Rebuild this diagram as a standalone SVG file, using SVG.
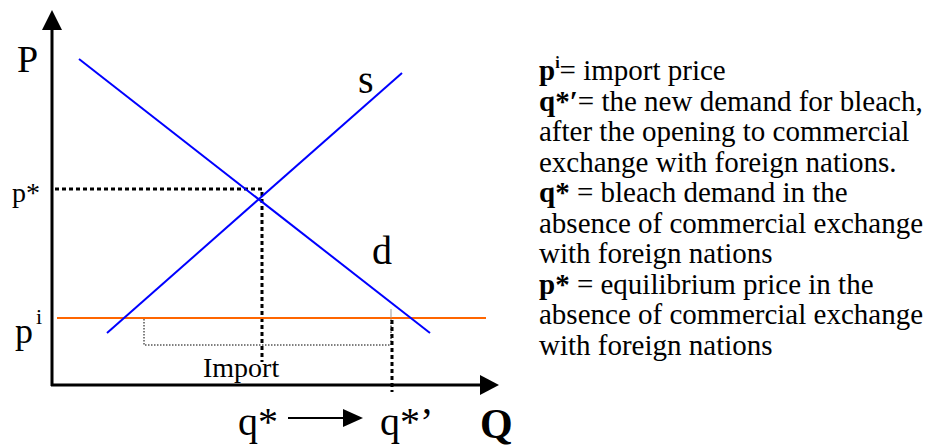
<svg xmlns="http://www.w3.org/2000/svg" width="933" height="446" viewBox="0 0 933 446">
<style>
.ax{stroke:#000;stroke-width:3;fill:none}
.curve{stroke:#0000ff;stroke-width:2;fill:none}
.dot{stroke:#000;stroke-width:3;stroke-dasharray:4 3;fill:none}
.thin{stroke:#000;stroke-width:1;stroke-dasharray:1.5 1.5;fill:none}
.lbl{font-family:"Liberation Serif","Times New Roman",serif;fill:#000}
.leg{font-family:"Liberation Serif","Times New Roman",serif;font-size:29px;fill:#000}
.b{font-weight:bold}
</style>
<rect width="933" height="446" fill="#fff"/>
<g id="connectors">
<line class="ax" x1="52" y1="386" x2="52" y2="28"/>
<polygon points="52,10 42,30 62,30" fill="#000"/>
<line class="ax" x1="51" y1="385" x2="481" y2="385"/>
<polygon points="499,385 480,375 480,395" fill="#000"/>
<line class="dot" x1="55" y1="189" x2="262" y2="189"/>
<line class="dot" x1="262" y1="192" x2="262" y2="362"/>
<line stroke="#ff6600" stroke-width="2" x1="57" y1="318" x2="486" y2="318"/>
<polyline class="thin" points="144,319 144,345 391,345 391,319"/>
<line stroke="#999" stroke-width="1" x1="391" y1="309" x2="391" y2="318"/>
<line class="dot" x1="392" y1="320" x2="392" y2="392"/>
<line class="curve" x1="79" y1="59" x2="430" y2="333"/>
<line class="curve" x1="107" y1="333" x2="402" y2="73"/>
<line stroke="#000" stroke-width="2" x1="288" y1="418" x2="345" y2="418"/>
<polygon points="363,418 343,409 343,427" fill="#000"/>
</g>
<g id="labels">
<text class="lbl" x="17" y="72" font-size="38">P</text>
<text class="lbl" x="358" y="93" font-size="40">s</text>
<text class="lbl" x="372" y="264" font-size="40">d</text>
<text class="lbl" x="12" y="202" font-size="28">p*</text>
<text class="lbl" x="15" y="343" font-size="36">p<tspan x="36" y="324" font-size="22">i</tspan></text>
<text class="lbl" x="203" y="377" font-size="28">Import</text>
<text class="lbl" x="238" y="435" font-size="40">q*</text>
<text class="lbl" x="380" y="435" font-size="40">q*’</text>
<text class="lbl b" x="480" y="438" font-size="42">Q</text>
</g>
<g id="legend">
<text class="leg" x="539" y="80"><tspan class="b">p<tspan font-size="16" dy="-12">i</tspan></tspan><tspan dy="12">= import price</tspan></text>
<text class="leg" x="539" y="110.5"><tspan class="b">q*′</tspan>= the new demand for bleach,</text>
<text class="leg" x="539" y="141">after the opening to commercial</text>
<text class="leg" x="539" y="171.5">exchange with foreign nations.</text>
<text class="leg" x="539" y="202"><tspan class="b">q*</tspan> = bleach demand in the</text>
<text class="leg" x="539" y="232.5">absence of commercial exchange</text>
<text class="leg" x="539" y="263">with foreign nations</text>
<text class="leg" x="539" y="293.5"><tspan class="b">p*</tspan> = equilibrium price in the</text>
<text class="leg" x="539" y="324">absence of commercial exchange</text>
<text class="leg" x="539" y="354.5">with foreign nations</text>
</g>
</svg>
